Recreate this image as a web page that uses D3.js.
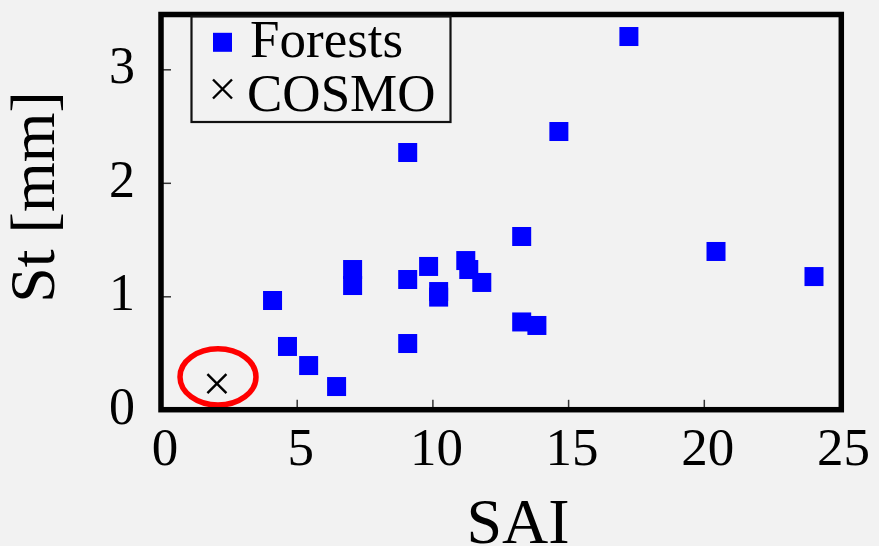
<!DOCTYPE html>
<meta charset="utf-8">
<style>
body {margin: 0; background: #f2f2f2;}
svg {display: block; font-family: "Liberation Serif", "Times New Roman", serif;}
.tick line {stroke: #333; stroke-width: 1.5;}
.domain {display: none;}
</style>
<html>
<body>
<script src="https://d3js.org/d3.v7.min.js"></script>
<script>
var width = 879,
    height = 546;

// Forests: stem area index vs storage
var forestSai = [4.11, 4.66, 5.44, 6.47, 7.06, 7.06, 9.09, 9.09, 9.09, 9.86, 10.23, 10.23,
                 11.23, 11.34, 11.82, 13.29, 13.29, 13.85, 14.66, 17.24, 20.45, 24.06];
var forestSt  = [0.963, 0.558, 0.39, 0.205, 1.236, 1.095, 2.267, 1.148, 0.584, 1.263, 1.042, 0.993,
                 1.315, 1.236, 1.122, 1.527, 0.774, 0.743, 2.452, 3.289, 1.395, 1.174];

// COSMO model value
var cosmoSai = [2.06];
var cosmoSt  = [0.23];

var xTicks = [0, 5, 10, 15, 20, 25];
var yTicks = [0, 1, 2, 3];

var svg = d3.select("body").append("svg")
    .attr("width", width)
    .attr("height", height);

var x = d3.scaleLinear().domain([0, 25]).range([161, 839.5]);
var y = d3.scaleLinear().domain([0, 3.483]).range([409.8, 14.5]);

svg.append("rect")
    .attr("width", width).attr("height", height)
    .attr("fill", "#f2f2f2");

// inward ticks
var xAxis = svg.append("g")
    .attr("transform", "translate(0," + y(0) + ")")
    .call(d3.axisBottom(x).tickValues(xTicks).tickSize(-10).tickFormat(d3.format("d")))
    .attr("font-family", null).attr("font-size", null);
xAxis.selectAll("text")
    .attr("y", 465 - y(0)).attr("dy", null).attr("dx", 3.5)
    .attr("fill", "#000")
    .style("font-size", "53px");

var yAxis = svg.append("g")
    .attr("transform", "translate(" + x(0) + ",0)")
    .call(d3.axisLeft(y).tickValues(yTicks).tickSize(-10).tickFormat(d3.format("d")))
    .attr("font-family", null).attr("font-size", null);
yAxis.selectAll("text")
    .attr("x", 135 - x(0)).attr("dy", 13.5)
    .attr("fill", "#000")
    .style("font-size", "52px");
yAxis.selectAll(".tick").filter(function(d) { return d === 0; }).select("line").remove();
xAxis.selectAll(".tick").filter(function(d) { return d === 0 || d === 25; }).select("line").remove();

// points
var sq = 19;
svg.append("g").selectAll("rect")
    .data(forestSai.map(function(d, i) { return [d, forestSt[i]]; }))
    .enter().append("rect")
    .attr("x", function(d) { return x(d[0]) - sq / 2; })
    .attr("y", function(d) { return y(d[1]) - sq / 2; })
    .attr("width", sq).attr("height", sq)
    .attr("fill", "#0000ff");

function cross(g, cx, cy, s) {
    g.append("path")
        .attr("d", "M" + (cx - s / 2) + "," + (cy - s / 2) + "L" + (cx + s / 2) + "," + (cy + s / 2) +
                   "M" + (cx - s / 2) + "," + (cy + s / 2) + "L" + (cx + s / 2) + "," + (cy - s / 2))
        .attr("stroke", "#000").attr("stroke-width", 2.4).attr("fill", "none");
}
cosmoSai.forEach(function(d, i) { cross(svg, x(d), y(cosmoSt[i]), 19); });

// red ring around COSMO point
svg.append("ellipse")
    .attr("cx", x(2.10)).attr("cy", y(0.29))
    .attr("rx", x(1.40) - x(0)).attr("ry", y(0) - y(0.247))
    .attr("fill", "none").attr("stroke", "#ff0000").attr("stroke-width", 5.5);

// frame
svg.append("rect")
    .attr("x", 161).attr("y", 14.5)
    .attr("width", 841.3 - 161).attr("height", 409.7 - 14.5)
    .attr("fill", "none").attr("stroke", "#000").attr("stroke-width", 5.5);

// legend
var leg = svg.append("g");
leg.append("rect")
    .attr("x", 191.5).attr("y", 16.5).attr("width", 259).attr("height", 105.5)
    .attr("fill", "#f2f2f2").attr("stroke", "#111").attr("stroke-width", 2.2);
leg.append("rect")
    .attr("x", 222.5 - sq / 2).attr("y", 42.3 - sq / 2).attr("width", sq).attr("height", sq)
    .attr("fill", "#0000ff");
cross(leg, 222.5, 89, 19);
leg.append("text").attr("x", 250).attr("y", 56.7).style("font-size", "53px").text("Forests");
leg.append("text").attr("x", 247).attr("y", 110.7).style("font-size", "53px").text("COSMO");

// axis titles
svg.append("text")
    .attr("x", 518).attr("y", 543)
    .attr("text-anchor", "middle")
    .style("font-size", "64px")
    .text("SAI");
svg.append("text")
    .attr("transform", "translate(54,197) rotate(-90)")
    .attr("text-anchor", "middle")
    .style("font-size", "64px")
    .text("St [mm]");
</script>
</body>
</html>
